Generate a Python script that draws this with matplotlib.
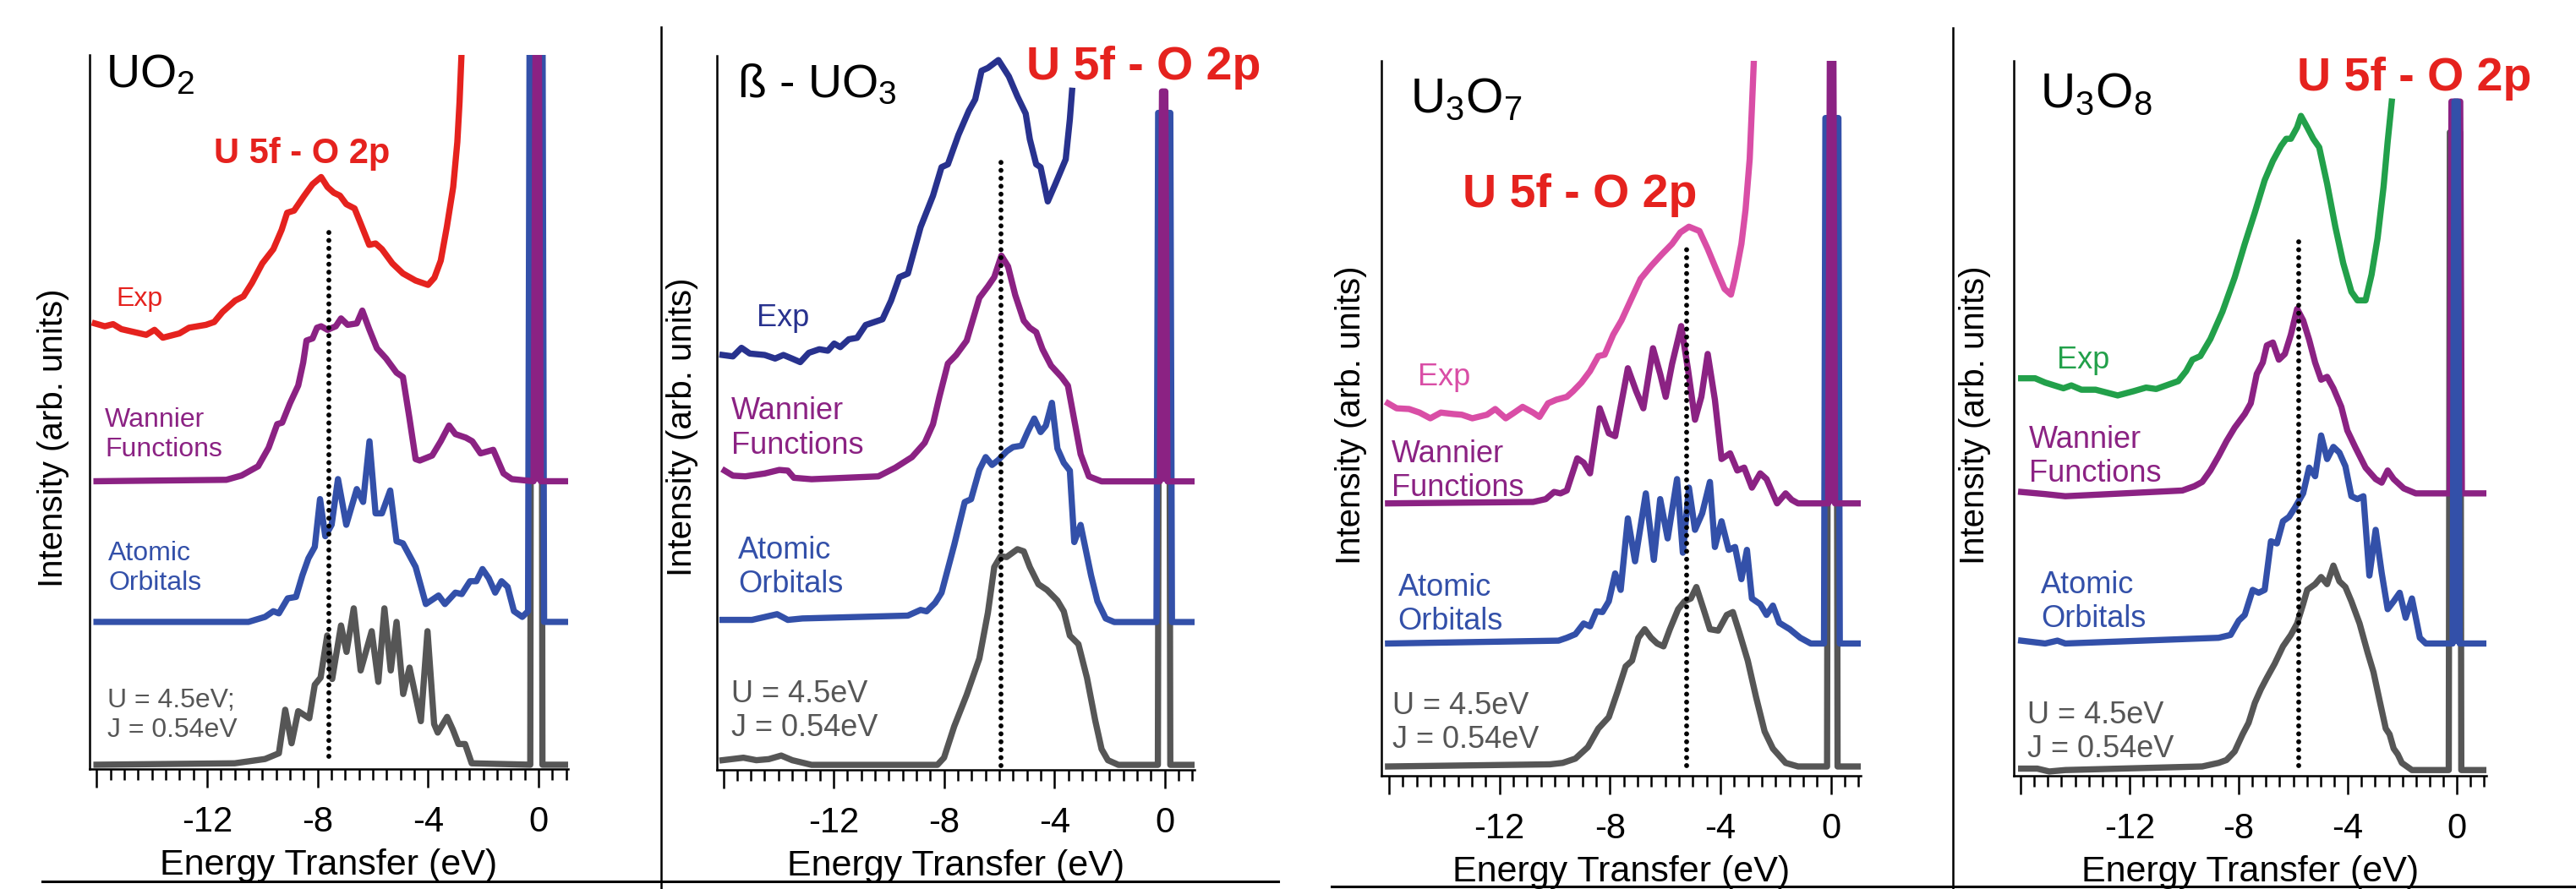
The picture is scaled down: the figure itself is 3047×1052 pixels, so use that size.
import numpy as np
import matplotlib
matplotlib.use("Agg")
import matplotlib.pyplot as plt
from matplotlib.lines import Line2D
from matplotlib.ticker import FixedLocator, MultipleLocator

plt.rcParams['font.family'] = ['Liberation Sans', 'DejaVu Sans']
plt.rcParams['mathtext.default'] = 'regular'
plt.rcParams['axes.unicode_minus'] = False

# ---- UO2 ----
uo2_calc_x = [-16.0, -11.0, -9.9, -9.4, -9.17, -8.94, -8.7, -8.3, -8.1, -7.89, -7.65, -7.47, -7.15, -6.95, -6.69,
              -6.44, -6.04, -5.8, -5.58, -5.35, -5.14, -4.9, -4.67, -4.26, -4.02, -3.78, -3.65, -3.31, -3.1, -2.9,
              -2.66, -2.42, -0.3, -0.26, 0.1, 0.14, 1.05]
uo2_calc_y = [0.6, 0.8, 1.4, 2.2, 8.3, 3.6, 8.1, 7.1, 11.8, 12.8, 18.7, 12.6, 20.1, 16.4, 22.5,
              13.8, 19.3, 12.2, 22.5, 13.8, 20.6, 10.5, 14.2, 6.7, 19.3, 6.3, 5.1, 7.3, 5.5, 3.5,
              3.5, 0.8, 0.6, 110, 110, 0.6, 0.6]
uo2_ao_x = [-16.0, -10.5, -9.9, -9.6, -9.4, -9.08, -8.78, -8.55, -8.33, -8.1, -7.91, -7.72, -7.49, -7.26, -6.96,
            -6.58, -6.35, -6.12, -5.9, -5.67, -5.37, -5.14, -4.91, -4.45, -4.08, -3.62, -3.39, -3.01, -2.78, -2.48,
            -2.25, -2.03, -1.8, -1.57, -1.34, -1.12, -0.89, -0.59, -0.38, -0.32, 0.14, 0.2, 1.05]
uo2_ao_y = [20.6, 20.6, 21.3, 22.1, 21.8, 23.9, 24.1, 27.1, 29.5, 31.1, 37.8, 32.6, 34.2, 40.6, 34.2,
            39.2, 37.4, 45.9, 35.8, 35.8, 39.0, 31.9, 31.6, 28.3, 23.1, 24.3, 23.1, 24.7, 24.5, 26.3,
            26.3, 28.0, 26.7, 24.7, 26.3, 25.5, 22.1, 21.3, 22.1, 110, 110, 20.6, 20.6]
uo2_wf_x = [-16.0, -11.3, -10.75, -10.15, -9.77, -9.46, -9.28, -9.0, -8.7, -8.52, -8.4, -8.18, -8.02, -7.87, -7.64,
            -7.34, -7.15, -6.91, -6.58, -6.38, -6.13, -5.85, -5.52, -5.14, -4.91, -4.68, -4.45, -4.3, -3.85, -3.54,
            -3.24, -3.01, -2.63, -2.4, -2.1, -1.64, -1.27, -0.97, -0.18, -0.1, 0.0, 0.08, 1.05]
uo2_wf_y = [40.3, 40.5, 41.1, 42.4, 45.0, 48.3, 48.5, 51.2, 53.7, 56.9, 60.0, 60.3, 61.8, 62.0, 61.5,
            62.0, 63.1, 62.2, 62.4, 64.2, 61.6, 58.9, 57.5, 55.5, 54.9, 49.3, 43.4, 43.2, 43.9, 45.9,
            48.1, 46.9, 46.4, 45.9, 44.2, 44.7, 41.4, 40.6, 40.3, 110, 110, 40.3, 40.3]
uo2_exp_x = [-16.06, -15.7, -15.4, -15.1, -14.2, -13.9, -13.6, -13.0, -12.65, -12.04, -11.74, -11.44, -10.98,
             -10.68, -10.37, -10.0, -9.6, -9.3, -9.1, -8.85, -8.48, -8.18, -7.87, -7.64, -7.41, -7.19, -6.96,
             -6.66, -6.43, -6.13, -5.9, -5.67, -5.29, -4.91, -4.45, -4.0, -3.77, -3.54, -3.32, -3.09, -2.94,
             -2.86, -2.79]
uo2_exp_y = [62.4, 62.0, 62.3, 61.6, 60.8, 61.5, 60.4, 61.0, 61.8, 62.2, 62.6, 64.0, 65.6,
             66.2, 68.1, 70.8, 72.8, 75.5, 77.9, 78.2, 80.3, 81.9, 82.9, 81.5, 80.7, 80.3, 79.1,
             78.5, 76.3, 73.4, 73.6, 72.8, 70.8, 69.4, 68.4, 67.8, 68.8, 71.2, 75.9, 81.5, 87.8,
             93.4, 100.0]
uo2_mark_x = [-7.58, -7.58]
uo2_mark_y = [1.8, 75.1]

# ---- beta-UO3 ----
uo3_calc_x = [-16.03, -15.7, -15.27, -14.8, -14.35, -13.9, -13.5, -12.8, -8.24, -8.0, -7.63, -7.18, -6.72, -6.41,
              -6.18, -5.95, -5.73, -5.34, -5.11, -4.89, -4.58, -4.27, -3.89, -3.66, -3.44, -3.13, -2.82, -2.52,
              -2.29, -2.06, -1.68, -0.25, -0.2, 0.15, 0.2, 1.07]
uo3_calc_y = [1.35, 1.5, 1.7, 1.35, 1.5, 2.0, 1.35, 0.7, 0.7, 1.7, 6.1, 10.5, 15.6, 22.0,
              28.4, 29.9, 29.8, 30.9, 30.6, 28.4, 26.0, 25.2, 23.7, 22.2, 18.8, 17.6, 12.9, 6.9,
              2.9, 1.35, 0.7, 0.7, 90, 90, 0.7, 0.7]
uo3_ao_x = [-16.03, -14.96, -14.5, -14.05, -13.66, -13.13, -9.31, -8.85, -8.63, -8.32, -8.09, -7.63, -7.25, -7.02,
            -6.72, -6.49, -6.26, -6.03, -5.73, -5.5, -5.19, -4.96, -4.73, -4.5, -4.31, -4.09, -3.89, -3.66, -3.44,
            -3.28, -3.05, -2.9, -2.67, -2.44, -2.14, -1.83, -0.3, -0.24, 0.2, 0.26, 1.07]
uo3_ao_y = [21.0, 21.0, 21.4, 21.8, 21.0, 21.2, 21.6, 22.4, 22.2, 23.4, 24.8, 31.5, 37.5, 37.9,
            42.0, 43.8, 42.7, 43.4, 44.6, 45.2, 45.4, 47.4, 49.2, 47.3, 48.2, 51.4, 45.0, 43.0, 41.9,
            31.9, 34.3, 31.5, 27.2, 23.6, 21.2, 20.7, 20.7, 92, 92, 20.7, 20.7]
uo3_wf_x = [-15.95, -15.65, -15.2, -14.5, -13.97, -13.66, -13.44, -12.8, -10.38, -9.77, -9.16, -8.7, -8.4, -8.17,
            -7.86, -7.56, -7.18, -6.72, -6.41, -6.18, -5.92, -5.68, -5.42, -5.11, -4.89, -4.66, -4.43, -4.12,
            -3.74, -3.51, -3.28, -3.05, -2.75, -2.29, -0.18, -0.1, 0.02, 0.1, 1.07]
uo3_wf_y = [41.9, 41.2, 41.1, 41.5, 42.0, 41.9, 40.9, 40.7, 41.1, 42.3, 43.8, 45.8, 48.4, 52.2,
            56.9, 58.1, 60.1, 66.1, 67.7, 69.0, 72.0, 70.5, 66.5, 62.9, 61.9, 61.3, 58.9, 56.6,
            55.0, 53.8, 49.0, 44.2, 41.1, 40.4, 40.4, 95, 95, 40.4, 40.4]
uo3_exp_x = [-16.03, -15.65, -15.34, -15.04, -14.5, -14.12, -13.82, -13.51, -13.21, -12.9, -12.52, -12.21, -11.98,
             -11.76, -11.45, -11.15, -10.84, -10.23, -9.92, -9.62, -9.31, -8.85, -8.4, -8.09, -7.86, -7.48, -7.1,
             -6.87, -6.64, -6.41, -6.03, -5.65, -5.34, -5.04, -4.89, -4.66, -4.5, -4.24, -3.97, -3.59, -3.44,
             -3.36]
uo3_exp_y = [58.1, 57.9, 59.1, 58.3, 58.1, 57.6, 58.1, 57.6, 57.1, 58.4, 58.9, 58.7, 59.7,
             59.2, 60.3, 60.5, 62.3, 63.1, 65.7, 69.0, 69.5, 76.0, 80.4, 84.4, 84.8, 88.9, 92.3,
             93.9, 97.9, 98.3, 99.4, 97.1, 94.3, 91.9, 88.3, 84.8, 84.4, 79.6, 82.0, 85.5, 91.1,
             95.1]
uo3_mark_x = [-5.95, -5.95]
uo3_mark_y = [0.6, 85.9]

# ---- U3O7 ----
u3o7_calc_x = [-16.03, -10.17, -9.71, -9.25, -8.8, -8.42, -8.04, -7.73, -7.43, -7.2, -6.97, -6.74, -6.51, -6.29,
               -6.06, -5.83, -5.53, -5.3, -5.07, -4.87, -4.61, -4.38, -4.08, -3.77, -3.55, -3.32, -3.01, -2.71,
               -2.4, -2.1, -1.64, -1.19, -0.14, -0.1, 0.2, 0.24, 1.1]
u3o7_calc_y = [1.3, 1.6, 1.8, 2.4, 4.0, 6.6, 8.2, 11.7, 15.3, 16.1, 19.3, 20.5, 19.3, 18.5,
               18.1, 20.5, 23.3, 24.4, 24.8, 26.4, 23.3, 20.5, 20.3, 22.5, 22.9, 20.1, 16.1, 11.0,
               6.2, 3.8, 1.8, 1.3, 1.3, 90, 90, 1.3, 1.3]
u3o7_ao_x = [-16.03, -9.86, -9.56, -9.25, -8.95, -8.72, -8.49, -8.27, -8.04, -7.81, -7.61, -7.35, -7.09, -6.7,
             -6.41, -6.18, -5.91, -5.57, -5.36, -5.14, -4.92, -4.66, -4.38, -4.2, -3.96, -3.7, -3.47, -3.24,
             -3.04, -2.86, -2.56, -2.33, -2.1, -1.87, -1.49, -1.11, -0.73, -0.25, -0.2, 0.27, 0.32, 1.1]
u3o7_ao_y = [18.5, 18.9, 19.3, 19.8, 21.3, 20.9, 23.0, 22.9, 24.4, 28.3, 26.0, 36.0, 30.0, 39.5,
             30.2, 38.7, 33.2, 41.5, 31.2, 40.3, 34.4, 36.7, 41.1, 32.0, 35.6, 31.6, 32.0, 27.5,
             31.6, 24.8, 24.0, 22.5, 23.8, 21.4, 20.5, 19.3, 18.5, 18.5, 92, 92, 18.5, 18.5]
u3o7_wf_x = [-16.03, -10.78, -10.32, -10.02, -9.79, -9.56, -9.18, -8.95, -8.72, -8.37, -8.04, -7.81, -7.35, -7.05,
             -6.79, -6.44, -6.18, -5.98, -5.75, -5.42, -5.18, -4.92, -4.69, -4.46, -4.2, -3.96, -3.65, -3.39,
             -3.14, -2.86, -2.56, -2.33, -1.95, -1.64, -1.42, -1.19, -0.1, -0.03, 0.08, 0.15, 1.1]
u3o7_wf_y = [38.1, 38.3, 38.7, 39.7, 39.5, 39.9, 44.4, 43.8, 42.3, 51.4, 47.9, 47.5, 57.0, 53.8,
             51.4, 59.8, 56.2, 53.0, 57.6, 62.9, 57.0, 49.8, 53.0, 59.0, 52.6, 44.3, 45.1, 42.7,
             43.1, 40.3, 42.3, 41.5, 38.1, 39.5, 38.6, 38.1, 38.1, 110, 110, 38.1, 38.1]
u3o7_exp_x = [-16.03, -15.72, -15.27, -14.89, -14.5, -14.12, -13.67, -13.36, -12.98, -12.45, -12.15, -11.77,
              -11.46, -11.16, -10.78, -10.55, -10.24, -9.94, -9.56, -9.33, -9.03, -8.72, -8.42, -8.19, -7.88,
              -7.58, -7.2, -6.89, -6.51, -6.13, -5.75, -5.45, -5.14, -4.76, -4.46, -4.16, -3.85, -3.62, -3.47,
              -3.24, -3.09, -2.94, -2.86, -2.79]
u3o7_exp_y = [52.1, 51.4, 51.3, 50.8, 50.0, 50.8, 50.6, 50.5, 50.0, 50.5, 51.3, 50.0,
              50.8, 51.6, 50.8, 50.2, 52.1, 52.6, 53.0, 53.8, 55.0, 56.6, 58.7, 58.9, 61.7,
              63.7, 66.9, 69.5, 71.3, 72.9, 74.4, 76.0, 76.8, 76.2, 73.7, 70.9, 68.1, 67.3, 69.7,
              74.4, 79.2, 86.3, 93.5, 100.0]
u3o7_mark_x = [-5.23, -5.23]
u3o7_mark_y = [1.4, 74.6]

# ---- U3O8 ----
u3o8_calc_x = [-15.98, -15.39, -14.95, -14.36, -9.34, -8.74, -8.45, -8.15, -7.86, -7.64, -7.41, -7.19, -6.97,
               -6.68, -6.38, -6.09, -5.86, -5.64, -5.49, -5.2, -4.98, -4.76, -4.53, -4.31, -4.09, -3.87, -3.57,
               -3.28, -3.06, -2.84, -2.61, -2.47, -2.32, -2.17, -2.02, -1.65, -0.3, -0.26, 0.12, 0.16, 1.08]
u3o8_calc_y = [1.0, 1.0, 0.6, 0.8, 1.3, 1.8, 2.2, 3.4, 5.8, 7.4, 10.2, 12.1, 13.7,
               15.7, 18.1, 19.7, 21.3, 24.0, 26.0, 26.8, 27.8, 26.8, 29.4, 27.2, 26.4, 24.4, 21.3,
               17.3, 14.5, 10.6, 6.6, 5.8, 3.8, 3.0, 1.8, 0.8, 0.8, 90, 90, 0.8, 0.8]
u3o8_ao_x = [-15.98, -15.1, -14.65, -14.36, -8.74, -8.3, -8.0, -7.78, -7.49, -7.27, -7.05, -6.82, -6.6, -6.38,
             -6.16, -5.94, -5.64, -5.42, -5.2, -4.98, -4.76, -4.53, -4.31, -4.09, -3.87, -3.65, -3.43, -3.21,
             -2.98, -2.76, -2.54, -2.32, -2.1, -1.88, -1.65, -1.36, -1.14, -0.16, -0.09, 0.03, 0.1, 1.08]
u3o8_ao_y = [18.9, 18.5, 18.9, 18.5, 19.3, 19.7, 21.7, 22.5, 26.0, 25.6, 26.0, 32.8, 32.5, 35.6,
             36.2, 37.5, 39.5, 43.1, 41.9, 47.6, 44.3, 46.0, 45.2, 43.3, 39.1, 38.7, 39.1, 28.0,
             34.4, 28.4, 23.3, 24.4, 25.6, 22.1, 24.8, 19.3, 18.5, 18.5, 94.3, 94.3, 18.5, 18.5]
u3o8_wf_x = [-15.98, -15.1, -14.36, -10.07, -9.63, -9.34, -9.04, -8.74, -8.45, -8.15, -7.78, -7.56, -7.34, -7.12,
             -6.97, -6.75, -6.53, -6.31, -6.09, -5.86, -5.64, -5.42, -5.2, -4.98, -4.76, -4.53, -4.24, -4.02,
             -3.72, -3.35, -2.98, -2.76, -2.54, -2.32, -1.95, -1.51, -0.26, -0.2, 0.12, 0.18, 1.08]
u3o8_wf_y = [39.7, 39.4, 39.1, 39.9, 40.5, 41.1, 42.7, 44.7, 46.8, 48.7, 50.6, 52.1, 56.2, 57.8,
             60.2, 60.6, 58.2, 59.0, 61.7, 65.3, 63.7, 61.0, 57.8, 55.4, 55.8, 54.2, 51.6, 48.3,
             45.9, 43.1, 41.5, 41.0, 42.7, 41.5, 40.2, 39.5, 39.5, 94.3, 94.3, 39.5, 39.5]
u3o8_exp_x = [-15.98, -15.47, -15.1, -14.43, -14.14, -13.77, -13.25, -12.44, -11.85, -11.4, -11.03, -10.22, -9.93,
              -9.7, -9.41, -9.04, -8.6, -8.15, -7.78, -7.41, -7.05, -6.75, -6.45, -6.26, -6.09, -5.86, -5.72,
              -5.49, -5.27, -5.05, -4.76, -4.46, -4.17, -3.87, -3.65, -3.35, -3.13, -2.91, -2.69, -2.54, -2.39]
u3o8_exp_y = [55.6, 55.6, 55.0, 54.2, 54.6, 54.0, 54.0, 53.2, 53.8, 54.3, 54.1, 55.2, 56.6,
              58.2, 58.7, 61.1, 64.9, 69.7, 74.4, 78.8, 83.3, 86.0, 88.1, 89.1, 89.1, 90.7, 92.3,
              90.7, 89.1, 87.9, 82.8, 76.8, 71.7, 67.7, 66.5, 66.5, 70.1, 75.2, 82.4, 88.7, 94.3]
u3o8_mark_x = [-5.79, -5.79]
u3o8_mark_y = [1.4, 74.8]

compounds = ['UO$_2$', 'ß - UO$_3$', 'U$_3$O$_7$', 'U$_3$O$_8$']
band_label = 'U 5f - O 2p'
uj_labels = ['U = 4.5eV;\nJ = 0.54eV', 'U = 4.5eV\nJ = 0.54eV', 'U = 4.5eV\nJ = 0.54eV', 'U = 4.5eV\nJ = 0.54eV']
tick_vals = [-16, -12, -8, -4, 0]
tick_text = ['', '-12', '-8', '-4', '0']

RED = '#e5221e'
PURPLE = '#8b2283'
BLUE = '#3350a9'
GRAY = '#565656'

W, H = 3047, 1052
fig = plt.figure(figsize=(W / 100, H / 100), dpi=100)


def px_axes(l, t, r, b):
    return fig.add_axes([l / W, 1 - b / H, (r - l) / W, (b - t) / H])


def fig_line(x0, y0, x1, y1, lw=1.8):
    fig.add_artist(Line2D([x0 / W, x1 / W], [1 - y0 / H, 1 - y1 / H], color='black', lw=lw,
                          transform=fig.transFigure))


panels = [
    dict(box=(106, 65, 672, 910), xlim=(-16.25, 1.07), exp_color=RED,
         calc=(uo2_calc_x, uo2_calc_y), ao=(uo2_ao_x, uo2_ao_y), wf=(uo2_wf_x, uo2_wf_y),
         exp=(uo2_exp_x, uo2_exp_y), mark=(uo2_mark_x, uo2_mark_y), top='wf',
         comp_pos=(-15.66, 95.5), comp_fs=40, band_pos=(-11.74, 84.9), band_fs=30,
         exp_pos=(-15.3, 64.8), wf_pos=(-15.7, 43.8), ao_pos=(-15.57, 25.1), uj_pos=(-15.6, 4.5),
         lab_fs=23, ylab=(-0.042, 0.464)),
    dict(box=(848, 66, 1413, 911), xlim=(-16.23, 1.08), exp_color='#28328e',
         calc=(uo3_calc_x, uo3_calc_y), ao=(uo3_ao_x, uo3_ao_y), wf=(uo3_wf_x, uo3_wf_y),
         exp=(uo3_exp_x, uo3_exp_y), mark=(uo3_mark_x, uo3_mark_y), top='wf',
         comp_pos=(-15.49, 94.2), comp_fs=40, band_pos=(-5.03, 96.7), band_fs=40,
         exp_pos=(-14.8, 62.1), wf_pos=(-15.7, 44.3), ao_pos=(-15.46, 24.8), uj_pos=(-15.7, 4.7),
         lab_fs=26, ylab=(-0.039, 0.48)),
    dict(box=(1634, 72, 2201, 918), xlim=(-16.27, 1.08), exp_color='#d94ea6',
         calc=(u3o7_calc_x, u3o7_calc_y), ao=(u3o7_ao_x, u3o7_ao_y), wf=(u3o7_wf_x, u3o7_wf_y),
         exp=(u3o7_exp_x, u3o7_exp_y), mark=(u3o7_mark_x, u3o7_mark_y), top='wf',
         comp_pos=(-15.23, 92.8), comp_fs=41, band_pos=(-13.33, 79.6), band_fs=40,
         exp_pos=(-14.95, 54.6), wf_pos=(-15.9, 39.1), ao_pos=(-15.67, 20.4), uj_pos=(-15.87, 3.9),
         lab_fs=26, ylab=(-0.03, 0.505)),
    dict(box=(2382, 72, 2941, 918), xlim=(-16.25, 1.08), exp_color='#22a04a',
         calc=(u3o8_calc_x, u3o8_calc_y), ao=(u3o8_ao_x, u3o8_ao_y), wf=(u3o8_wf_x, u3o8_wf_y),
         exp=(u3o8_exp_x, u3o8_exp_y), mark=(u3o8_mark_x, u3o8_mark_y), top='ao',
         comp_pos=(-15.29, 93.5), comp_fs=41, band_pos=(-5.86, 95.9), band_fs=40,
         exp_pos=(-14.67, 57.0), wf_pos=(-15.69, 41.1), ao_pos=(-15.25, 20.8), uj_pos=(-15.75, 2.6),
         lab_fs=26, ylab=(-0.048, 0.505)),
]

for i, p in enumerate(panels):
    ax = px_axes(*p['box'])
    ax.set_xlim(*p['xlim'])
    ax.set_ylim(0, 100)
    for s in ['top', 'right']:
        ax.spines[s].set_visible(False)
    ax.spines['left'].set_linewidth(1.8)
    ax.spines['bottom'].set_linewidth(1.8)
    ax.set_yticks([])
    ax.xaxis.set_major_locator(FixedLocator(tick_vals))
    ax.set_xticklabels(tick_text)
    ax.xaxis.set_minor_locator(MultipleLocator(0.5))
    ax.tick_params(axis='x', which='major', direction='out', length=16, width=1.8, pad=15, labelsize=30)
    ax.tick_params(axis='x', which='minor', direction='out', length=9, width=1.8)

    curves = [('calc', GRAY, 2), ('ao', BLUE, 3), ('wf', PURPLE, 4), ('exp', p['exp_color'], 6)]
    for key, col, z in curves:
        x = np.array(p[key][0])
        y = np.array(p[key][1])
        if key == p['top']:
            z = 5
            m = np.abs(x) < 0.5
            ax.fill_between(x[m], y[m], y[-1], color=col, lw=0, zorder=z)
        ax.plot(x, y, color=col, lw=5.3, zorder=z)

    ax.plot(p['mark'][0], p['mark'][1], color='black', lw=4.2, ls=(0, (0.01, 1.6)),
            dash_capstyle='round', zorder=7)

    ax.text(*p['comp_pos'], compounds[i], fontsize=p['comp_fs'], va='baseline', ha='left')
    ax.text(*p['band_pos'], band_label, fontsize=p['band_fs'], fontweight='bold', color=RED,
            va='baseline', ha='left', zorder=8)
    lfs = p['lab_fs']
    ax.text(*p['exp_pos'], 'Exp', fontsize=lfs, color=p['exp_color'], va='baseline')
    ax.text(*p['wf_pos'], 'Wannier\nFunctions', fontsize=lfs, color=PURPLE, va='baseline',
            linespacing=1.2)
    ax.text(*p['ao_pos'], 'Atomic\nOrbitals', fontsize=lfs, color=BLUE, va='baseline', linespacing=1.2)
    ax.text(*p['uj_pos'], uj_labels[i], fontsize=lfs, color=GRAY, va='baseline', linespacing=1.2)

    ax.set_xlabel('Energy Transfer (eV)', fontsize=31, labelpad=8)
    ax.set_ylabel('Intensity (arb. units)', fontsize=29)
    ax.yaxis.set_label_coords(*p['ylab'])

# frame lines between the two figure halves
fig_line(782, 32, 782, 1052)
fig_line(2310, 33, 2310, 1052)
fig_line(50, 1043, 1512, 1043, lw=2.2)
fig_line(1575, 1049, 3047, 1049, lw=2.2)

fig.savefig('out.png', dpi=100)
